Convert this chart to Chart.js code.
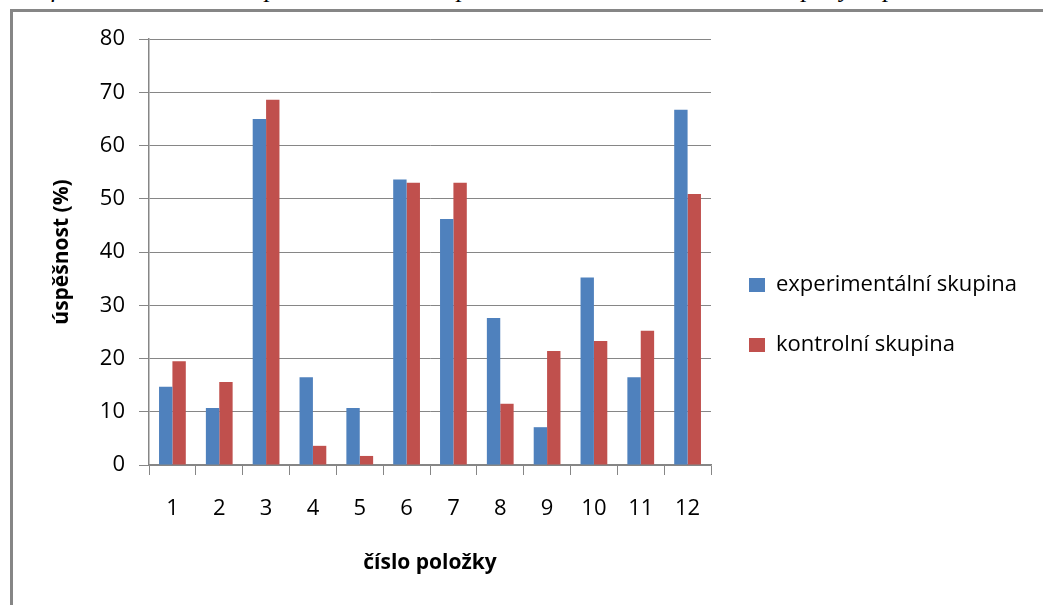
<!DOCTYPE html>
<html>
<head>
<meta charset="utf-8">
<script src="https://cdn.jsdelivr.net/npm/chart.js@4.4.1/dist/chart.umd.min.js"></script>
<style>
    html, body { margin: 0; padding: 0; background: #fff; overflow: hidden; }
    #caption {
        position: absolute; left: 4px; top: -24px;
        font-family: "Liberation Serif", serif; font-style: italic; font-size: 26px; line-height: 26px;
        letter-spacing: 1.8px; white-space: nowrap; color: #000;
    }
    #frame {
        position: absolute; left: 10px; top: 9px; width: 1100px; height: 700px;
        border: 3px solid #868686; box-sizing: border-box;
    }
    #wrap { position: absolute; left: 0; top: 0; width: 1043px; height: 605px; }
</style>
</head>
<body>
<div id="caption">Graf č. 6: Celková úspěšnost testu experimentální a kontrolní skupiny v posttestu</div>
<div id="frame"></div>
<div id="wrap"><canvas id="chart" width="1043" height="605"></canvas></div>
<script>
// Data
const categories = ['1', '2', '3', '4', '5', '6', '7', '8', '9', '10', '11', '12'];
const seriesNames = ['experimentální skupina', 'kontrolní skupina'];
const experimentalni = [14.7, 10.7, 65.0, 16.5, 10.7, 53.6, 46.2, 27.6, 7.1, 35.2, 16.5, 66.7];
const kontrolni = [19.5, 15.6, 68.6, 3.6, 1.7, 53.0, 53.0, 11.5, 21.4, 23.3, 25.2, 50.9];
const yTicks = [0, 10, 20, 30, 40, 50, 60, 70, 80];

const gridGray = '#868686';
const labelFont = { family: '"Open Sans", sans-serif', size: 22 };
const titleFont = { family: '"Open Sans", sans-serif', size: 21, weight: 'bold' };

const ctx = document.getElementById('chart').getContext('2d');
const chart = new Chart(ctx, {
    type: 'bar',
    data: {
        labels: categories,
        datasets: [{
            label: seriesNames[0],
            data: experimentalni,
            backgroundColor: '#4F81BD',
            barPercentage: 1,
            categoryPercentage: 2 / 3.5
        }, {
            label: seriesNames[1],
            data: kontrolni,
            backgroundColor: '#C0504D',
            barPercentage: 1,
            categoryPercentage: 2 / 3.5
        }]
    },
    options: {
        responsive: false,
        animation: false,
        devicePixelRatio: 1,
        layout: { padding: { top: 39, right: 0, bottom: 14, left: 0 } },
        plugins: {
            legend: {
                position: 'right',
                labels: {
                    boxWidth: 16,
                    boxHeight: 14,
                    padding: 38,
                    color: '#000',
                    font: labelFont
                }
            },
            tooltip: { enabled: false }
        },
        scales: {
            y: {
                min: 0,
                max: 80,
                afterBuildTicks: s => { s.ticks = yTicks.map(v => ({ value: v })); },
                afterFit: s => { s.width = 149; },
                ticks: { color: '#000', font: labelFont, padding: 14 },
                grid: { color: gridGray, lineWidth: 1, tickLength: 10 },
                border: { color: gridGray, width: 1.5 },
                title: {
                    display: true,
                    text: 'úspěšnost (%)',
                    color: '#000',
                    font: titleFont,
                    padding: { top: 49, bottom: 0 }
                }
            },
            x: {
                afterFit: s => { s.height = 126; },
                ticks: { color: '#000', font: labelFont, padding: 21 },
                grid: { color: gridGray, drawOnChartArea: false, tickLength: 10, offset: true },
                border: { color: gridGray, width: 1.5 },
                title: {
                    display: true,
                    text: 'číslo položky',
                    color: '#000',
                    font: titleFont,
                    padding: { top: 0, bottom: 15 }
                }
            }
        }
    }
});

// legend column is wider than Chart.js measures it, fix its width so the plot ends at x=711
const legendFit = chart.legend.fit.bind(chart.legend);
chart.legend.fit = function () {
    legendFit();
    this.width = 332;
};
chart.update();
</script>
</body>
</html>
